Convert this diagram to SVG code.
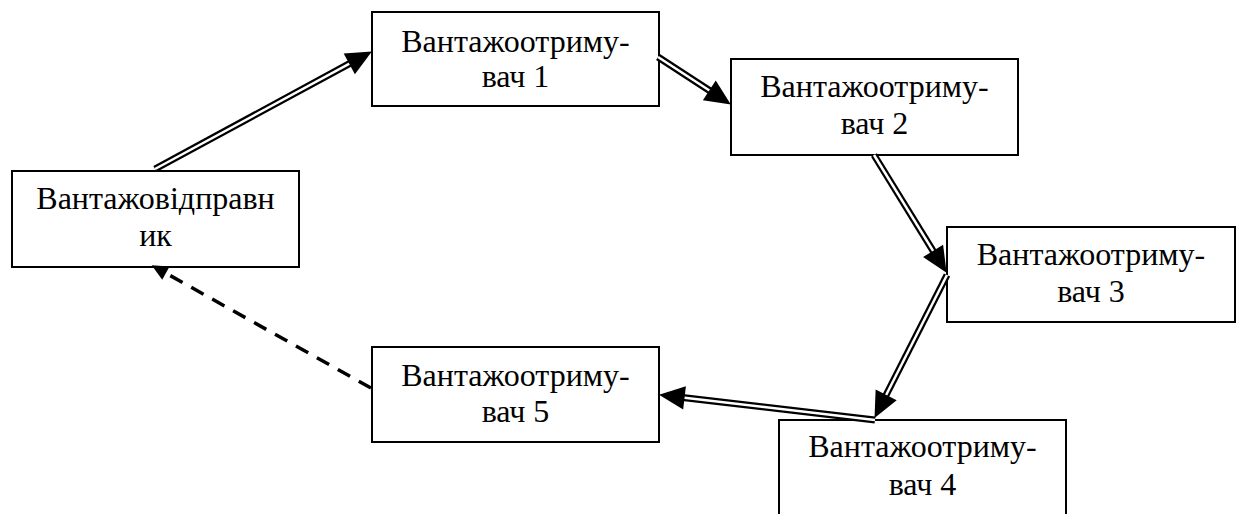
<svg xmlns="http://www.w3.org/2000/svg" width="1240" height="514" viewBox="0 0 1240 514">
<style>
.box{fill:#fff;stroke:#000;stroke-width:2}
.lbl{font-family:'Liberation Serif','Tinos','DejaVu Serif',serif;font-size:32px;fill:#000;text-anchor:middle}
.outer{fill:none;stroke:#000;stroke-width:7}
.inner{fill:none;stroke:#fff;stroke-width:2.5;marker-end:url(#head)}
.dash{fill:none;stroke:#000;stroke-width:3.5;stroke-dasharray:14 10;marker-end:url(#shead)}
</style>
<defs>
<marker id="head" markerUnits="userSpaceOnUse" orient="auto" refX="10" refY="0" markerWidth="30" markerHeight="30" viewBox="-2 -13 28 26" overflow="visible">
<path d="M0,-11 L24,0 L0,11 z" fill="#000"/>
</marker>
<marker id="shead" markerUnits="userSpaceOnUse" orient="auto" refX="2" refY="0" markerWidth="20" markerHeight="20" viewBox="-2 -8 16 16" overflow="visible">
<path d="M0,-6 L13,0 L0,6 z" fill="#000"/>
</marker>
</defs>
<g id="sender">
<rect class="box" x="12" y="171" width="287" height="96"/>
<text class="lbl" font-family="Liberation Serif, serif" x="155.5" y="209">Вантажовідправн</text>
<text class="lbl" font-family="Liberation Serif, serif" x="155.5" y="246">ик</text>
</g>
<g id="r1">
<rect class="box" x="372" y="12" width="287" height="94"/>
<text class="lbl" x="515.5" y="52">Вантажоотриму-</text>
<text class="lbl" x="515.5" y="87">вач 1</text>
</g>
<g id="r2">
<rect class="box" x="731" y="59" width="287" height="96"/>
<text class="lbl" x="874.5" y="97">Вантажоотриму-</text>
<text class="lbl" x="874.5" y="134">вач 2</text>
</g>
<g id="r3">
<rect class="box" x="947" y="227" width="288" height="95"/>
<text class="lbl" x="1091" y="265">Вантажоотриму-</text>
<text class="lbl" x="1091" y="302">вач 3</text>
</g>
<g id="r4">
<rect class="box" x="779" y="420" width="287" height="96"/>
<text class="lbl" x="922.5" y="457">Вантажоотриму-</text>
<text class="lbl" x="922.5" y="495">вач 4</text>
</g>
<g id="r5">
<rect class="box" x="372" y="347" width="287" height="95"/>
<text class="lbl" x="515.5" y="386">Вантажоотриму-</text>
<text class="lbl" x="515.5" y="422">вач 5</text>
</g>
<g id="connectors">
<path class="outer" d="M155,169 L358.7,58.7"/>
<path class="inner" d="M155,169 L358.7,58.7"/>
<path class="outer" d="M658,57 L718.3,96.3"/>
<path class="inner" d="M658,57 L718.3,96.3"/>
<path class="outer" d="M874,155 L938.7,260"/>
<path class="inner" d="M874,155 L938.7,260"/>
<path class="outer" d="M947,275 L881.3,404.5"/>
<path class="inner" d="M947,275 L881.3,404.5"/>
<path class="outer" d="M875,420 L673.9,396.6"/>
<path class="inner" d="M875,420 L673.9,396.6"/>
<path class="dash" d="M371,388 L163.7,271.9"/>
</g>
</svg>
